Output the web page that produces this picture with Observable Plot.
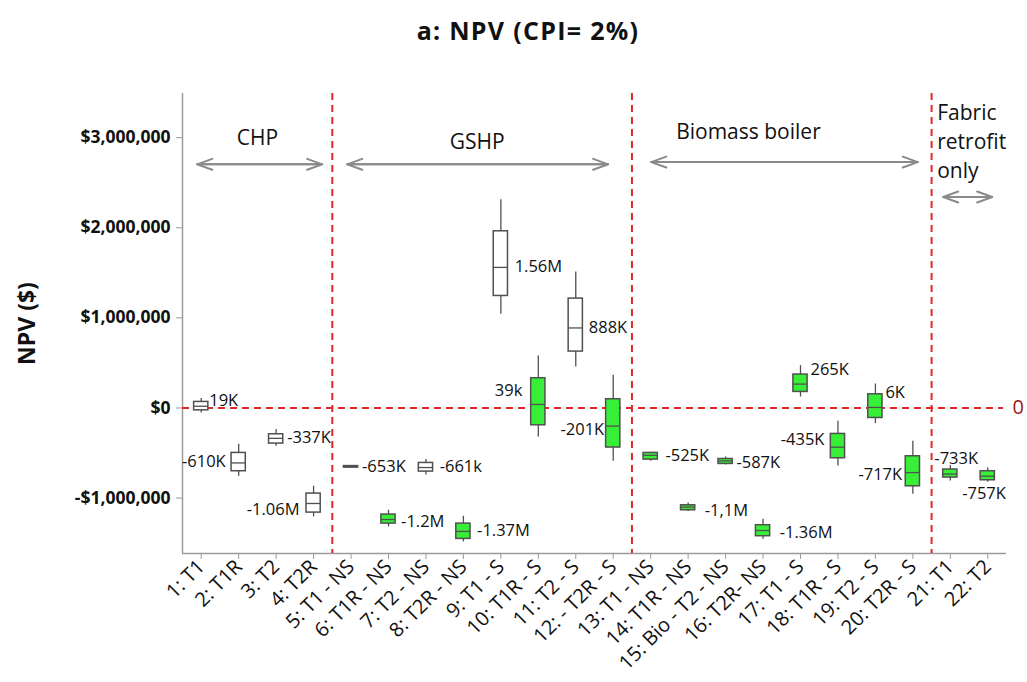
<!DOCTYPE html>
<html><head><meta charset="utf-8">
<script src="https://cdn.jsdelivr.net/npm/d3@7"></script>
<script src="https://cdn.jsdelivr.net/npm/@observablehq/plot@0.6"></script>
<style>
body{margin:0;background:#fff;font-family:"Open Sans",sans-serif;}
#title{height:60px;width:1027px;box-sizing:border-box;padding-left:29px;text-align:center;font-weight:bold;font-size:25px;letter-spacing:1.3px;line-height:60px;color:#111;}
</style></head><body>
<div id="title">a: NPV (CPI= 2%)</div>
<div id="chart"></div>
<script>
// Categories (x axis tick labels)
const categories = ["1: T1","2: T1R","3: T2","4: T2R","5: T1 - NS","6: T1R - NS","7: T2 - NS","8: T2R - NS",
  "9: T1 - S","10: T1R - S","11: T2 - S","12: - T2R - S","13: T1 - NS","14: T1R - NS","15: Bio - T2 - NS",
  "16: T2R- NS","17: T1 - S","18: T1R - S","19: T2 - S","20: T2R - S","21: T1","22: T2"];
// Box plot statistics (NPV, $)
const whiskerLow  = [-55000,-758000,-425000,-1209000,-664000,-1320000,-743000,-1487000,1040000,-322000,455000,-591000,-590000,-1149000,-632000,-1457000,122000,-644000,-173000,-958000,-810000,-824000];
const q1          = [-26000,-702000,-395000,-1161000,-661000,-1283000,-706000,-1453000,1243000,-192000,626000,-439000,-573000,-1135000,-621000,-1423000,178000,-558000,-111000,-869000,-772000,-802000];
const median      = [19000,-610000,-337000,-1060000,-653000,-1238000,-661000,-1370000,1560000,39000,888000,-201000,-525000,-1100000,-587000,-1360000,265000,-435000,6000,-717000,-733000,-757000];
const q3          = [67000,-499000,-292000,-950000,-645000,-1183000,-610000,-1283000,1961000,330000,1214000,97000,-499000,-1080000,-566000,-1301000,371000,-288000,152000,-536000,-683000,-702000];
const whiskerHigh = [104000,-403000,-240000,-869000,-642000,-1135000,-573000,-1202000,2312000,577000,1509000,363000,-490000,-1054000,-544000,-1235000,470000,-148000,266000,-369000,-639000,-666000];
// Whether the scenario box is shaded green
const shaded = [false,false,false,false,false,true,false,true,false,true,false,true,true,true,true,true,true,true,true,true,true,true];
// Median labels and where (in $) they sit
const labels = ["19K","-610K","-337K","-1.06M","-653K","-1.2M","-661k","-1.37M","1.56M","39k","888K","-201K","-525K","-1,1M","-587K","-1.36M","265K","-435K","6K","-717K","-733K","-757K"];
const labelY = [78000,-591000,-333000,-1127000,-655000,-1265000,-655000,-1357000,1572000,196000,892000,-240000,-525000,-1135000,-606000,-1387000,426000,-351000,171000,-739000,-561000,-957000];
// Section annotations
const sectionBreaks = [4.5, 12.5, 20.5];
const sectionNames = ["CHP","GSHP","Biomass boiler","Fabric\nretrofit\nonly"];
const sectionTextX = [2.5, 8.37, 15.61, 20.65];
const sectionTextY = [2996000, 2951000, 3062000, 2978000];
const arrowX1 = [0.892, 4.897, 13.014, 20.81];
const arrowX2 = [4.23, 11.866, 20.132, 22.118];
const arrowY  = [2704000, 2704000, 2729000, 2341000];
const yTicks = [-1000000, 0, 1000000, 2000000, 3000000];

// layout (label offsets in px, anchors)
const labelDx = [8,-13,11,-14,11,12.6,13.7,13.7,13.8,-16,13,-9,14.7,16.6,10.8,16.7,10,-13.5,10,-10.7,-16,-25.6];
const labelAnchor = ["start","end","start","end","start","start","start","start","start","end","start","end","start","start","start","start","start","end","start","end","start","start"];

const rows = categories.map((c, i) => ({i: i + 1, c, lo: whiskerLow[i], q1: q1[i], med: median[i], q3: q3[i], hi: whiskerHigh[i], shaded: shaded[i], label: labels[i], ly: labelY[i]}));
const sections = sectionNames.map((name, k) => ({name, tx: sectionTextX[k], ty: sectionTextY[k], x1: arrowX1[k], x2: arrowX2[k], y: arrowY[k]}));

const hw = 0.19;
const red = "#e02828";
const green = "#38ef38";
const boxStroke = "#505050";
const fmt = d => (d < 0 ? "-" : "") + "$" + d3.format(",")(Math.abs(d));

const chart = Plot.plot({
  width: 1027, height: 622,
  marginTop: 33, marginBottom: 129, marginLeft: 182, marginRight: 21,
  style: {fontFamily: "'Open Sans', sans-serif", background: "white", color: "#111"},
  x: {type: "linear", domain: [0.5, 22.5]},
  y: {domain: [-1615000, 3490000]},
  marks: [
    Plot.ruleX([0.5], {stroke: "#9a9a9a", strokeWidth: 1.5}),
    Plot.ruleY([-1615000], {stroke: "#9a9a9a", strokeWidth: 1.5}),
    Plot.axisY({ticks: yTicks, tickFormat: fmt, tickSize: 6, tickPadding: 6, fontSize: 17.5, fontWeight: "bold", stroke: "#9a9a9a", fill: "#111", label: null}),
    Plot.axisX({ticks: d3.range(1, 23), tickFormat: i => categories[i - 1], tickRotate: -45, tickSize: 6, tickPadding: 4, fontSize: 20, stroke: "#9a9a9a", fill: "#111", label: null}),
    Plot.text(["NPV ($)"], {text: d => d, frameAnchor: "left", textAnchor: "middle", dx: -155, rotate: -90, fontSize: 23, fontWeight: "bold", fill: "#111"}),
    Plot.ruleY([0], {x1: 0.5, x2: 22.42, stroke: red, strokeWidth: 2, strokeDasharray: "7,5"}),
    Plot.ruleX(sectionBreaks, {stroke: red, strokeWidth: 2, strokeDasharray: "7,5"}),
    Plot.text(["0"], {text: d => d, x: 22.5, y: 0, dx: 6, textAnchor: "start", fill: "#a01818", fontSize: 20}),
    Plot.ruleX(rows, {x: "i", y1: "lo", y2: "hi", stroke: boxStroke, strokeWidth: 1.3}),
    Plot.rect(rows.filter(d => !d.shaded), {x1: d => d.i - hw, x2: d => d.i + hw, y1: "q1", y2: "q3", fill: "white", stroke: boxStroke, strokeWidth: 1.5}),
    Plot.rect(rows.filter(d => d.shaded), {x1: d => d.i - hw, x2: d => d.i + hw, y1: "q1", y2: "q3", fill: green, stroke: boxStroke, strokeWidth: 1.5}),
    Plot.ruleY(rows, {x1: d => d.i - hw, x2: d => d.i + hw, y: "med", stroke: boxStroke, strokeWidth: 1.3}),
    ...rows.map((r, k) => Plot.text([r], {x: "i", y: "ly", text: "label", dx: labelDx[k], textAnchor: labelAnchor[k], fontSize: 16.5, fill: "#111"})),
    Plot.text(sections.slice(0, 3), {x: "tx", y: "ty", text: "name", fontSize: 21, fill: "#111"}),
    Plot.text(sections.slice(3), {x: "tx", y: "ty", text: "name", fontSize: 21, fill: "#111", textAnchor: "start", lineHeight: 1.38}),
    Plot.arrow(sections, {x1: "x1", x2: "x2", y1: "y", y2: "y", stroke: "#8a8a8a", strokeWidth: 2, headLength: 12, headAngle: 40}),
    Plot.arrow(sections, {x1: "x2", x2: "x1", y1: "y", y2: "y", stroke: "#8a8a8a", strokeWidth: 2, headLength: 12, headAngle: 40})
  ]
});
document.getElementById("chart").appendChild(chart);
</script>
</body></html>
